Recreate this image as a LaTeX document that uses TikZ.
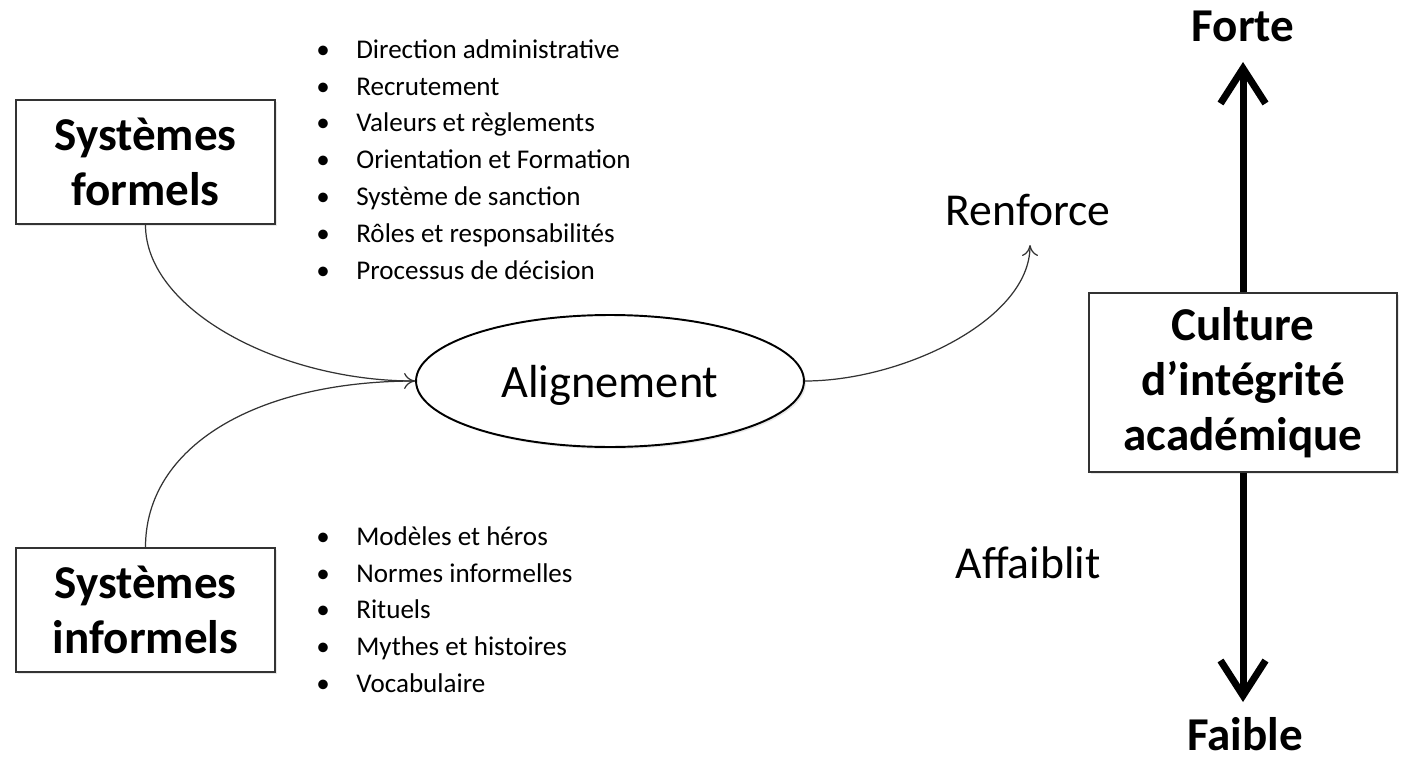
\documentclass[tikz,border=0pt]{standalone}
\usepackage{fontspec}
\setmainfont{Carlito}
\usetikzlibrary{arrows.meta,shapes.geometric,shadows}

\newcommand{\puce}{\makebox[0.8cm][l]{\textbullet}}

\begin{document}
\begin{tikzpicture}[x=0.02cm,y=-0.02cm,
                shadowed/.style={drop shadow={opacity=0.18,shadow xshift=0.04cm,shadow yshift=-0.04cm}},
                sys node/.style={rectangle,draw=black!80,line width=1.1pt,fill=white,shadowed,
                  font=\fontsize{26.8}{31.3}\selectfont\bfseries,align=center},
                list node/.style={anchor=north west,inner sep=0pt,align=left,
                  font=\fontsize{15.4}{21}\selectfont},
                word node/.style={anchor=base,inner sep=0pt,font=\fontsize{26}{31}\selectfont},
                link/.style={line width=0.7pt,black!80},
                big arrow/.style={line width=4pt,-{Straight Barb[length=7mm,width=9mm]}}]
	\useasboundingbox (0,0) rectangle (1405,760);

	% les deux systemes
	\node[sys node,minimum width=5.18cm,minimum height=2.48cm] (formels) at (145.5,162) {Systèmes\\formels};
	\node[sys node,minimum width=5.18cm,minimum height=2.48cm] (informels) at (145.5,610) {Systèmes\\informels};

	\node[list node] (listeformels) at (316,39) {\puce Direction administrative\\
		\puce Recrutement\\
		\puce Valeurs et règlements\\
		\puce Orientation et Formation\\
		\puce Système de sanction\\
		\puce Rôles et responsabilités\\
		\puce Processus de décision};
	\node[list node] (listeinformels) at (316,526) {\puce Modèles et héros\\
		\puce Normes informelles\\
		\puce Rituels\\
		\puce Mythes et histoires\\
		\puce Vocabulaire};

	\node[ellipse,draw,line width=1.1pt,fill=white,shadowed,inner sep=0pt,
	      minimum width=7.76cm,minimum height=2.64cm,text height=0.68cm,text depth=0pt,
	      font=\fontsize{26.4}{31}\selectfont] (align) at (610,381) {Alignement};

	\node[word node] (renforce) at (1028,225) {Renforce};
	\node[word node] (affaiblit) at (1028,578) {Affaiblit};
	\coordinate (rtip) at (1030,245);

	% culture
	\node[sys node,minimum width=6.16cm,minimum height=3.58cm] (culture) at (1243,382.5) {Culture\\d’intégrité\\académique};
	\node[word node,font=\fontsize{26.8}{31}\selectfont\bfseries] (forte) at (1243,42) {Forte};
	\node[word node,font=\fontsize{26.8}{31}\selectfont\bfseries] (faible) at (1245,750) {Faible};
	\coordinate (haut) at (1243,62);
	\coordinate (bas) at (1243,702);

	\draw[link] (informels.north) .. controls +(0,-100) and +(-160,0) .. (align.west);
	\draw[link,-{To[length=2.2mm,width=3.2mm]}] (formels.south) .. controls +(0,85) and +(-135,0) .. (align.west);
	\draw[link,-{To[length=2.2mm,width=3.2mm]}] (align.east) .. controls +(97,0) and +(0,75) .. (rtip);

	\draw[big arrow] (culture.north) -- (haut);
	\draw[big arrow] (culture.south) -- (bas);

\end{tikzpicture}
\end{document}
